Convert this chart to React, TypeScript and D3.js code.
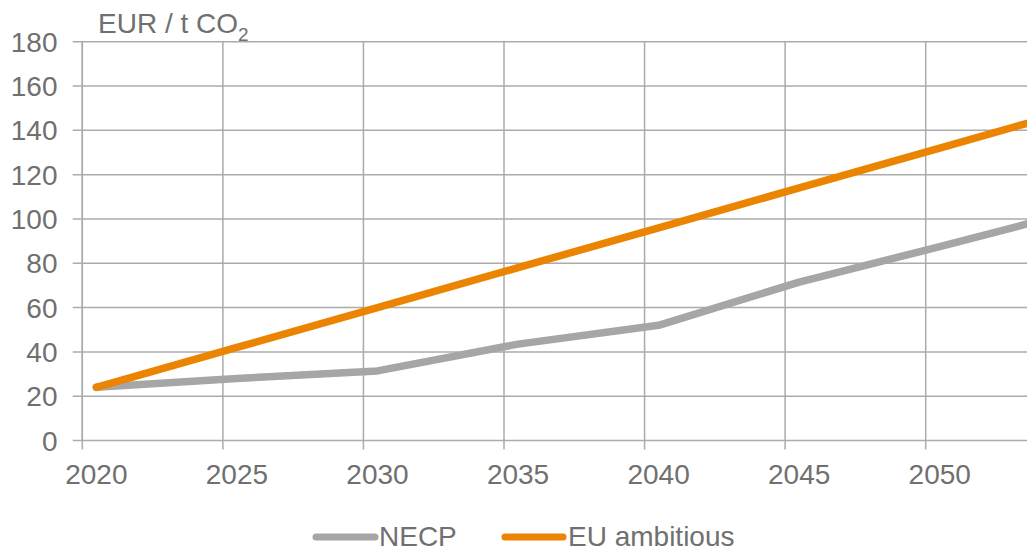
import React from "react";
import * as d3 from "d3";

const years = [2020, 2025, 2030, 2035, 2040, 2045, 2050, 2055];
const necp = [24, 28, 31.4, 43.5, 52, 71.5, 87.5, 104];
const euAmbitious = [24, 42, 60, 78, 96, 114, 132, 150];
const yTicks = [0, 20, 40, 60, 80, 100, 120, 140, 160, 180];
const xLabels = [2020, 2025, 2030, 2035, 2040, 2045, 2050];
const seriesNames = ["NECP", "EU ambitious"];

const W = 1027;
const H = 552;
const FONT = "'Liberation Sans', Arial, sans-serif";
const TEXT = "#707070";
const GRID = "#ABABAB";
const GRAY = "#A6A6A6";
const ORANGE = "#EB8400";
const FS = 28;

export default function App() {
  const x = d3.scaleLinear().domain([2019.5, 2049.5]).range([82.3, 925.7]);
  const y = d3.scaleLinear().domain([0, 180]).range([440.5, 41.7]);
  const line = d3
    .line<[number, number]>()
    .x((d) => x(d[0]))
    .y((d) => y(d[1]));
  const necpPts = years.map((yr, i) => [yr, necp[i]] as [number, number]);
  const euPts = years.map((yr, i) => [yr, euAmbitious[i]] as [number, number]);
  const vGrid = d3.range(2019.5, 2060, 5);
  const x0 = x(2019.5);

  return (
    <svg
      width={W}
      height={H}
      style={{ position: "absolute", left: 0, top: 0, background: "#fff" }}
      fontFamily={FONT}
    >
      <defs>
        <clipPath id="clip">
          <rect x={0} y={0} width={W} height={H} />
        </clipPath>
      </defs>
      {yTicks.map((t) => (
        <g key={"y" + t}>
          <line x1={72.7} x2={W} y1={y(t)} y2={y(t)} stroke={GRID} strokeWidth={1.5} />
          <text x={57.5} y={y(t)} dy="0.36em" textAnchor="end" fontSize={FS} fill={TEXT}>
            {t}
          </text>
        </g>
      ))}
      {vGrid.map((v) => (
        <line
          key={"v" + v}
          x1={x(v)}
          x2={x(v)}
          y1={y(180)}
          y2={y(0) + 9}
          stroke={GRID}
          strokeWidth={1.5}
        />
      ))}
      {xLabels.map((l) => (
        <text key={"x" + l} x={x(l)} y={484} textAnchor="middle" fontSize={FS} fill={TEXT}>
          {l}
        </text>
      ))}
      <text x={98} y={33} fontSize={FS} fill={TEXT}>
        EUR / t CO
        <tspan fontSize={19} dy={8}>
          2
        </tspan>
      </text>
      <g clipPath="url(#clip)">
        <path
          d={line(necpPts) || ""}
          fill="none"
          stroke={GRAY}
          strokeWidth={7.5}
          strokeLinejoin="round"
          strokeLinecap="round"
        />
        <path
          d={line(euPts) || ""}
          fill="none"
          stroke={ORANGE}
          strokeWidth={7.5}
          strokeLinejoin="round"
          strokeLinecap="round"
        />
      </g>
      <g>
        <line x1={316} x2={375} y1={537} y2={537} stroke={GRAY} strokeWidth={7} strokeLinecap="round" />
        <text x={379} y={546} fontSize={FS} fill={TEXT}>
          {seriesNames[0]}
        </text>
        <line x1={505} x2={563} y1={537} y2={537} stroke={ORANGE} strokeWidth={7} strokeLinecap="round" />
        <text x={568} y={546} fontSize={FS} fill={TEXT}>
          {seriesNames[1]}
        </text>
      </g>
      <line x1={x0} x2={x0} y1={y(180)} y2={y(0)} stroke={GRID} strokeWidth={1.5} />
    </svg>
  );
}
